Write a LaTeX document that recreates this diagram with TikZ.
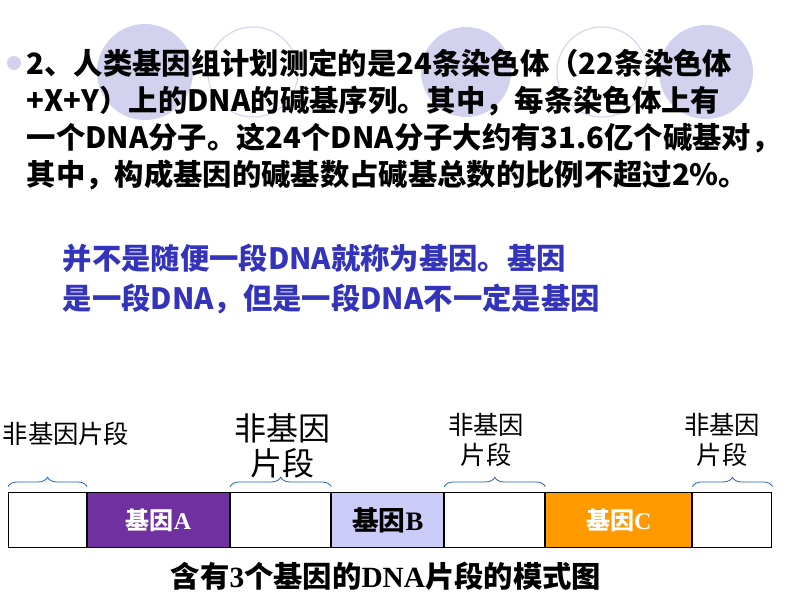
\documentclass[tikz,border=0pt]{standalone}
\usepackage{fontspec}
\setmainfont{Liberation Serif}
\newfontfamily\cjk{Noto Sans CJK SC}
\usetikzlibrary{decorations.pathreplacing}
\definecolor{lav}{HTML}{D2D2EE}
\definecolor{genA}{HTML}{7030A0}
\definecolor{genB}{HTML}{CCCCF8}
\definecolor{genC}{HTML}{FF9900}
\definecolor{blu}{HTML}{3333BB}
\definecolor{brc}{HTML}{1F5FA8}

\begin{document}
\begin{tikzpicture}[
            x = 0.75pt, y = -0.75pt, % pixel grid
            line/.style = {anchor = west, font = \cjk\bfseries\fontsize{22}{24}\selectfont},
            note/.style = {anchor = west, text = blu, font = \cjk\bfseries\fontsize{22}{24}\selectfont},
            seg/.style = {draw = black, thick, minimum height = 41.25pt, inner sep = 0pt},
            lab/.style = {align = center, font = \cjk\fontsize{19}{22}\selectfont},
            brace/.style = {draw = brc, semithick, decorate, decoration = {brace, amplitude = 7pt}}
        ]

        \useasboundingbox (0,0) rectangle (794,596);

        % decorative circles
        \fill[lav] (145,72) circle (48);
        \draw[lav, thick] (253,72) circle (45);
        \fill[lav] (466,72) circle (45);
        \draw[lav, thick] (602,72) circle (45);
        \fill[lav] (706,72) circle (47);
        \fill[lav] (14,63) circle (7);

        % main text
        \node[line] (l1) at (22,63) {2、人类基因组计划测定的是24条染色体（22条染色体};
        \node[line] (l2) at (22,101) {+X+Y）上的DNA的碱基序列。其中，每条染色体上有};
        \node[line] (l3) at (22,138) {一个DNA分子。这24个DNA分子大约有31.6亿个碱基对，};
        \node[line] (l4) at (22,175) {其中，构成基因的碱基数占碱基总数的比例不超过2\%。};

        \node[note] (n1) at (58,258) {并不是随便一段DNA就称为基因。基因};
        \node[note] (n2) at (58,299) {是一段DNA，但是一段DNA不一定是基因};

        % DNA bar
        \node[seg, fill = white, minimum width = 58.5pt, anchor = west] (s1) at (8,520) {};
        \node[seg, fill = genA, minimum width = 106.5pt, anchor = west, text = white, font = \bfseries\fontsize{18}{20}\selectfont] (s2) at (s1.east) {{\cjk 基因}A};
        \node[seg, fill = white, minimum width = 75pt, anchor = west] (s3) at (s2.east) {};
        \node[seg, fill = genB, minimum width = 84pt, anchor = west, font = \bfseries\fontsize{20}{22}\selectfont] (s4) at (s3.east) {{\cjk 基因}B};
        \node[seg, fill = white, minimum width = 75pt, anchor = west] (s5) at (s4.east) {};
        \node[seg, fill = genC, minimum width = 109.5pt, anchor = west, text = white, font = \bfseries\fontsize{18}{20}\selectfont] (s6) at (s5.east) {{\cjk 基因}C};
        \node[seg, fill = white, minimum width = 59.25pt, anchor = west] (s7) at (s6.east) {};

        % braces
        \draw[brace] ([yshift=4pt]s1.north west) -- ([yshift=4pt]s1.north east);
        \draw[brace] ([yshift=4pt]s3.north west) -- ([yshift=4pt]s3.north east);
        \draw[brace] ([yshift=4pt]s5.north west) -- ([yshift=4pt]s5.north east);
        \draw[brace] ([yshift=4pt]s7.north west) -- ([yshift=4pt]s7.north east);

        % labels
        \node[lab] (t1) at (66,434) {非基因片段};
        \node[lab, font = \cjk\fontsize{24}{26}\selectfont] (t3) at (282,446) {非基因\\片段};
        \node[lab] (t5) at (486,440) {非基因\\片段};
        \node[lab] (t7) at (722,440) {非基因\\片段};

        \node[font = \bfseries\fontsize{22}{24}\selectfont] (cap) at (386,576) {{\cjk 含有}3{\cjk 个基因的}DNA{\cjk 片段的模式图}};

  \end{tikzpicture}
\end{document}
